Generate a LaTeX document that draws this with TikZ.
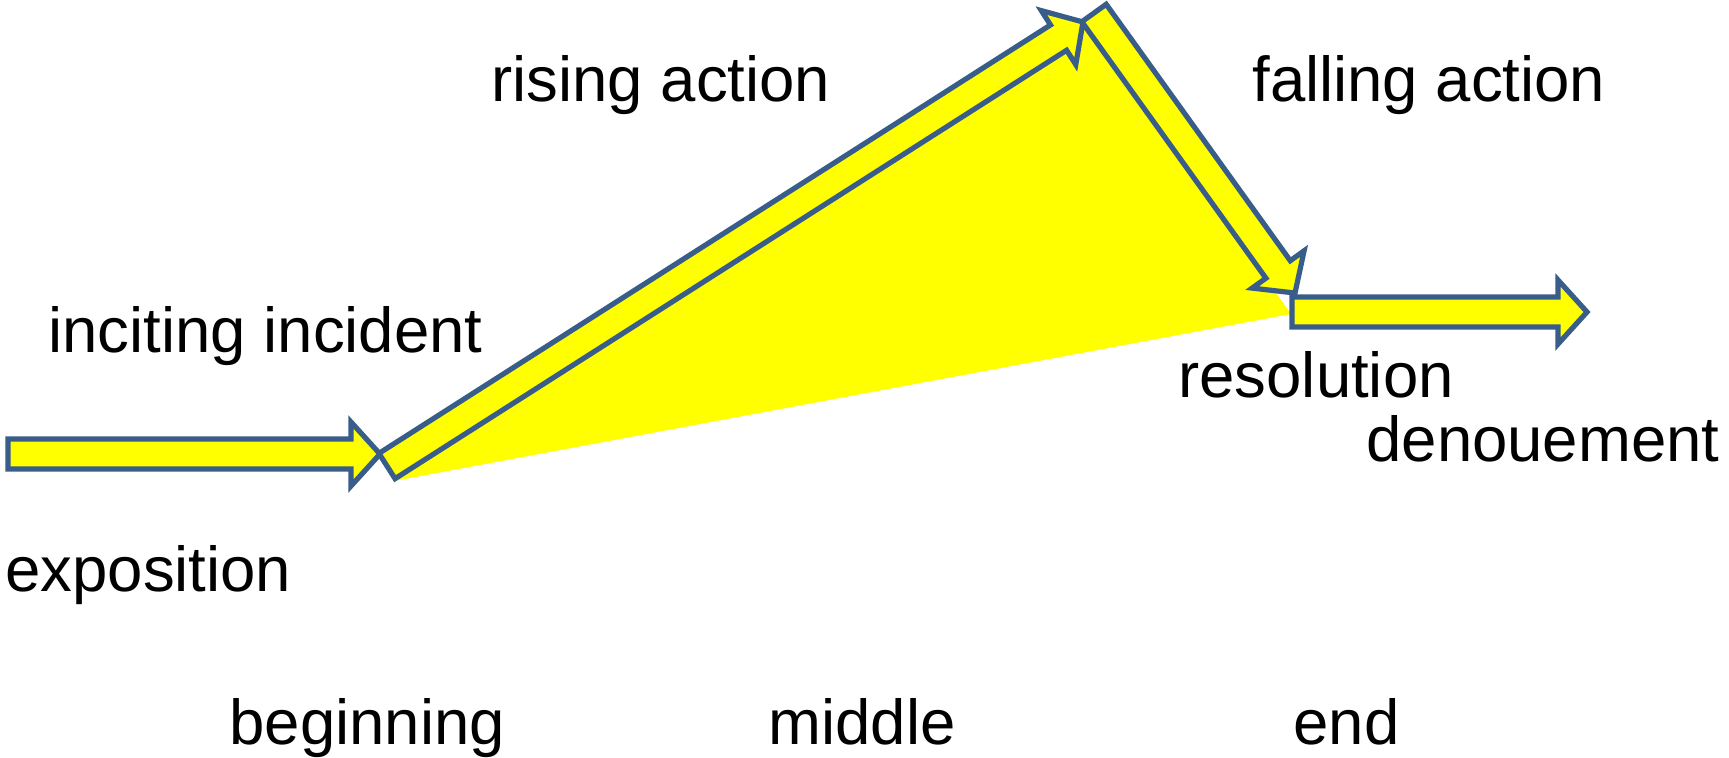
\documentclass[tikz,border=0pt]{standalone}
\usepackage{fontspec}
\setmainfont{Liberation Sans}
\usetikzlibrary{calc}
\definecolor{edgeblue}{RGB}{56,93,138}
\definecolor{fillyellow}{RGB}{255,255,0}
\tikzset{
  blockarrow/.style={draw=edgeblue, fill=fillyellow, line width=2.6pt, line join=miter},
  lbl/.style={anchor=base west, inner sep=0pt, font=\fontsize{31.75}{38}\selectfont},
}
\newcommand\myblockarrow[2]{%
  \coordinate (#1-b) at ($(#2)!14.5pt!(#1)$);
  \draw[blockarrow] ($(#1)!7.5pt!90:(#2)$) -- ($(#1-b)!7.5pt!90:(#2)$) -- ($(#1-b)!16pt!90:(#2)$) -- (#2)
    -- ($(#1-b)!16pt!-90:(#2)$) -- ($(#1-b)!7.5pt!-90:(#2)$) -- ($(#1)!7.5pt!-90:(#2)$) -- cycle;
}
\begin{document}
\begin{tikzpicture}[x=0.5pt,y=-0.5pt]
\useasboundingbox (0,0) rectangle (1729,757);
\coordinate (t1) at (8,454);    \coordinate (p1) at (380,454);
\coordinate (t2) at (387,466);  \coordinate (p2) at (1083,22);
\coordinate (t3) at (1094,13);  \coordinate (p3) at (1295,293);
\coordinate (t4) at (1292,312); \coordinate (p4) at (1587,312);
\coordinate (f1) at (394,481);  \coordinate (f3) at (1291,314);
\fill[fillyellow] (f1) -- (p2) -- (f3) -- cycle;
\myblockarrow{t1}{p1}
\myblockarrow{t2}{p2}
\myblockarrow{t3}{p3}
\myblockarrow{t4}{p4}
\node[lbl] (rising) at (491,101) {rising action};
\node[lbl] (falling) at (1252,101) {falling action};
\node[lbl] (inciting) at (48,352) {inciting incident};
\node[lbl] (resolution) at (1178,397) {resolution};
\node[lbl] (denouement) at (1366,461) {denouement};
\node[lbl] (exposition) at (5,591) {exposition};
\node[lbl] (beginning) at (229,744) {beginning};
\node[lbl] (middle) at (768,744) {middle};
\node[lbl] (end) at (1293,744) {end};
\end{tikzpicture}
\end{document}
